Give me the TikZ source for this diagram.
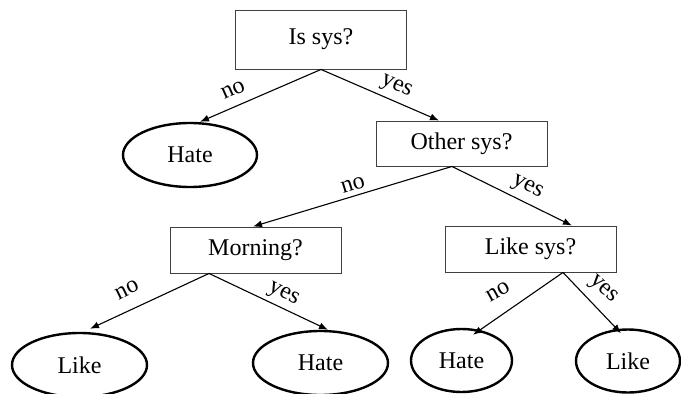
\documentclass[tikz,border=0pt]{standalone}
\usepackage{fontspec}
\setmainfont{Liberation Serif}
\usetikzlibrary{arrows.meta,calc,shapes.geometric}
\begin{document}
\begin{tikzpicture}[x=1pt,y=1pt,
  every node/.style={font=\fontsize{24}{28}\selectfont},
  question/.style={draw=black!75,line width=0.9pt,rectangle,inner sep=0pt},
  leaf/.style={draw=black,line width=2.4pt,ellipse,inner sep=0pt},
  branch/.style={line width=1.1pt,-{Latex[length=9pt,width=7pt]}},
  tag/.style={inner sep=1pt}]
\useasboundingbox (0,0) rectangle (681,-394);
% decision boxes
\node[question,minimum width=171pt,minimum height=59pt] (q1) at (321,-39.5) {Is sys?};
\node[question,minimum width=171pt,minimum height=45pt] (q2) at (461.5,-143.5) {Other sys?};
\node[question,minimum width=171pt,minimum height=46pt] (q3) at (255.5,-250) {Morning?};
\node[question,minimum width=171pt,minimum height=46pt] (q4) at (530.5,-249) {Like sys?};
% leaves
\node[leaf,minimum width=134pt,minimum height=64pt] (l1) at (190,-155) {Hate};
\node[leaf,minimum width=135pt,minimum height=64pt] (l2) at (79.5,-365) {Like};
\node[leaf,minimum width=135pt,minimum height=64pt] (l3) at (320.5,-363) {Hate};
\node[leaf,minimum width=101pt,minimum height=63pt] (l4) at (461.5,-360.5) {Hate};
\node[leaf,minimum width=104pt,minimum height=63pt] (l5) at (628,-361) {Like};
% branches
\draw[branch] (q1.south) -- ([xshift=10pt]l1.north);
\draw[branch] (q1.south) -- ([xshift=-22.5pt]q2.north);
\draw[branch] ([xshift=-9.5pt]q2.south) -- ([xshift=-2.5pt]q3.north);
\draw[branch] ([xshift=-9.5pt]q2.south) -- ([xshift=41.5pt]q4.north);
\draw[branch] ([xshift=-46.5pt]q3.south) -- ([xshift=10.5pt,yshift=3pt]l2.north);
\draw[branch] ([xshift=-46.5pt]q3.south) -- ([xshift=7.5pt]l3.north);
\draw[branch] ([xshift=32.5pt]q4.south) -- ([xshift=11.5pt,yshift=-7pt]l4.north);
\draw[branch] ([xshift=32.5pt]q4.south) -- ([xshift=-7pt,yshift=-5pt]l5.north);
% branch labels
\node[tag,rotate=24] (t1) at (233,-90) {no};
\node[tag,rotate=-24] (t2) at (396,-87) {yes};
\node[tag,rotate=17] (t3) at (353,-185) {no};
\node[tag,rotate=-27] (t4) at (527,-188) {yes};
\node[tag,rotate=26] (t5) at (127,-290) {no};
\node[tag,rotate=-27] (t6) at (283,-295) {yes};
\node[tag,rotate=29] (t7) at (498,-292) {no};
\node[tag,rotate=-42] (t8) at (603,-290) {yes};
\end{tikzpicture}
\end{document}
